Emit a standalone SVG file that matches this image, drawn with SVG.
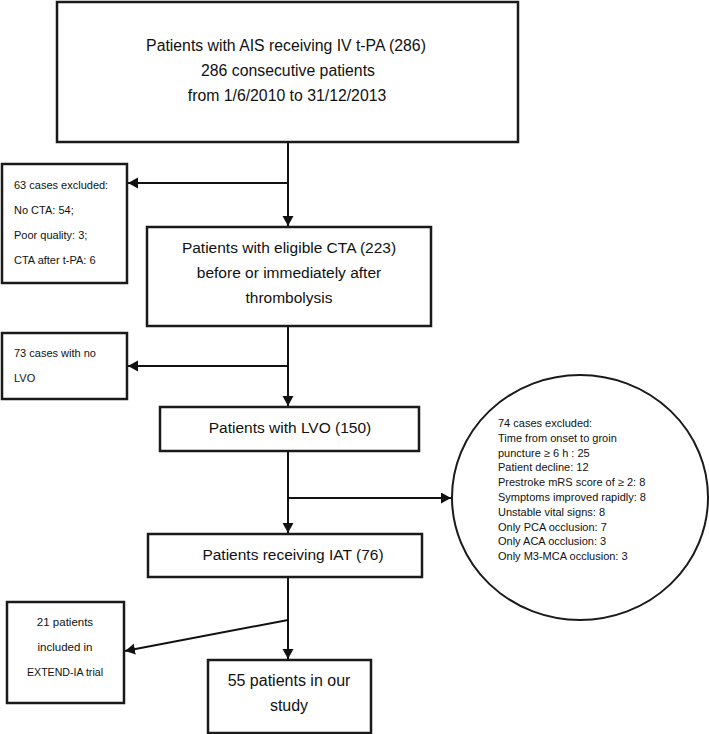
<svg xmlns="http://www.w3.org/2000/svg" width="709" height="734" viewBox="0 0 709 734">
<style>
.box{fill:#fff;stroke:#1a1a1a;stroke-width:2.5}
.ln{fill:none;stroke:#111;stroke-width:2}
.t{font-family:"Liberation Sans",Arial,sans-serif;fill:#111}
.big{font-size:15.5px;text-anchor:middle}
.sm{font-size:11px}
.smc{font-size:11.5px;text-anchor:middle}
</style>
<defs>
<marker id="ah" markerUnits="userSpaceOnUse" markerWidth="12" markerHeight="12" refX="10" refY="5.5" orient="auto">
<path d="M0,0 L10,5.5 L0,11 Z" fill="#111"/>
</marker>
</defs>
<rect width="709" height="734" fill="#fff"/>
<g id="connectors">
<line class="ln" x1="288" y1="142" x2="288" y2="226" marker-end="url(#ah)"/>
<line class="ln" x1="288" y1="183" x2="128" y2="183" marker-end="url(#ah)"/>
<line class="ln" x1="288" y1="326" x2="288" y2="406" marker-end="url(#ah)"/>
<line class="ln" x1="288" y1="366" x2="128" y2="366" marker-end="url(#ah)"/>
<line class="ln" x1="288" y1="451" x2="288" y2="533" marker-end="url(#ah)"/>
<line class="ln" x1="288" y1="498" x2="451" y2="498" marker-end="url(#ah)"/>
<line class="ln" x1="288" y1="577" x2="288" y2="659" marker-end="url(#ah)"/>
<line class="ln" x1="288" y1="620" x2="125" y2="651" marker-end="url(#ah)"/>
</g>
<g id="n-start">
<rect class="box" x="57" y="2" width="461" height="140"/>
<text class="t big" x="286" y="51" style="font-size:15.8px">Patients with AIS receiving IV t-PA (286)</text>
<text class="t big" x="288" y="76" style="font-size:15.8px">286 consecutive patients</text>
<text class="t big" x="287" y="101" style="font-size:15.8px">from 1/6/2010 to 31/12/2013</text>
</g>
<g id="n-excl63">
<rect class="box" x="2" y="164" width="125" height="119"/>
<text class="t sm" x="14" y="189">63 cases excluded:</text>
<text class="t sm" x="14" y="214">No CTA: 54;</text>
<text class="t sm" x="14" y="239">Poor quality: 3;</text>
<text class="t sm" x="14" y="264">CTA after t-PA: 6</text>
</g>
<g id="n-cta">
<rect class="box" x="147" y="227" width="284" height="99"/>
<text class="t big" x="289" y="252.5">Patients with eligible CTA (223)</text>
<text class="t big" x="289" y="277.5">before or immediately after</text>
<text class="t big" x="289" y="302.5">thrombolysis</text>
</g>
<g id="n-nolvo">
<rect class="box" x="2" y="333" width="125" height="66"/>
<text class="t sm" x="14" y="357">73 cases with no</text>
<text class="t sm" x="14" y="382">LVO</text>
</g>
<g id="n-lvo">
<rect class="box" x="160" y="407" width="259" height="44"/>
<text class="t big" x="290" y="432.5">Patients with LVO (150)</text>
</g>
<g id="n-excl74">
<ellipse cx="580" cy="497.5" rx="128" ry="122.5" fill="#fff" stroke="#1a1a1a" stroke-width="2"/>
<text class="t sm" x="498" y="427">74 cases excluded:</text>
<text class="t sm" x="498" y="441.8">Time from onset to groin</text>
<text class="t sm" x="498" y="456.6">puncture ≥ 6  h : 25</text>
<text class="t sm" x="498" y="471.4">Patient decline: 12</text>
<text class="t sm" x="498" y="486.2">Prestroke mRS score of ≥ 2: 8</text>
<text class="t sm" x="498" y="501">Symptoms improved rapidly: 8</text>
<text class="t sm" x="498" y="515.8">Unstable vital signs: 8</text>
<text class="t sm" x="498" y="530.6">Only PCA occlusion: 7</text>
<text class="t sm" x="498" y="545.4">Only ACA occlusion: 3</text>
<text class="t sm" x="498" y="560.2">Only M3-MCA occlusion: 3</text>
</g>
<g id="n-iat">
<rect class="box" x="148" y="534" width="274" height="43"/>
<text class="t big" x="293" y="560">Patients receiving IAT (76)</text>
</g>
<g id="n-extend">
<rect class="box" x="7" y="602" width="117" height="101"/>
<text class="t smc" x="65" y="625.5">21 patients</text>
<text class="t smc" x="65" y="650.5">included in</text>
<text class="t smc" x="65" y="675.5" textLength="76" lengthAdjust="spacingAndGlyphs">EXTEND-IA trial</text>
</g>
<g id="n-study">
<rect class="box" x="208" y="660" width="163" height="73"/>
<text class="t big" x="289" y="686" style="font-size:16px">55 patients in our</text>
<text class="t big" x="289" y="711" style="font-size:16px">study</text>
</g>
</svg>
